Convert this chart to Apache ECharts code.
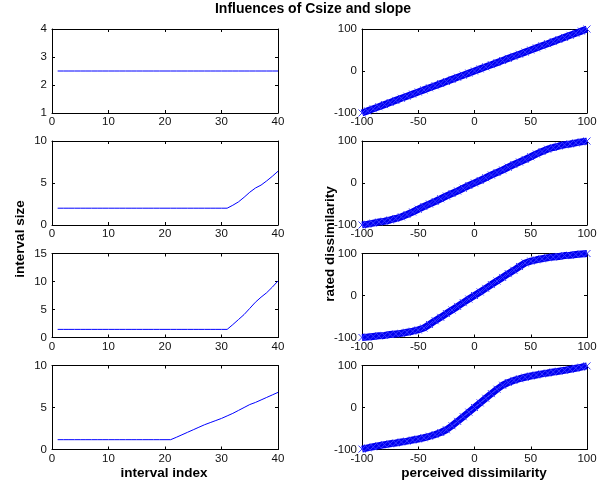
<!DOCTYPE html>
<html>
<head>
<meta charset="utf-8">
<title>Influences of Csize and slope</title>
<script src="https://cdn.jsdelivr.net/npm/echarts@6/dist/echarts.min.js"></script>
<style>
  html, body { margin: 0; padding: 0; background: #fff; }
  #chart { width: 613px; height: 486px; }
</style>
</head>
<body>
<div id="chart"></div>
<script>
// Interval index (left column x values)
const intervalIndex = [1,2,3,4,5,6,7,8,9,10,11,12,13,14,15,16,17,18,19,20,
                       21,22,23,24,25,26,27,28,29,30,31,32,33,34,35,36,37,38,39,40];

// Interval sizes for the four settings of Csize / slope
const sizeA = [2.5,2.5,2.5,2.5,2.5,2.5,2.5,2.5,2.5,2.5,2.5,2.5,2.5,2.5,2.5,2.5,2.5,2.5,2.5,2.5,
               2.5,2.5,2.5,2.5,2.5,2.5,2.5,2.5,2.5,2.5,2.5,2.5,2.5,2.5,2.5,2.5,2.5,2.5,2.5,2.5];
const sizeB = [2,2,2,2,2,2,2,2,2,2,2,2,2,2,2,2,2,2,2,2,
               2,2,2,2,2,2,2,2,2,2,2,2.35,2.75,3.3,3.9,4.4,4.75,5.25,5.8,6.4];
const sizeC = [1.45,1.45,1.45,1.45,1.45,1.45,1.45,1.45,1.45,1.45,1.45,1.45,1.45,1.45,1.45,1.45,1.45,1.45,1.45,1.45,
               1.45,1.45,1.45,1.45,1.45,1.45,1.45,1.45,1.45,1.45,1.45,2.3,3.2,4.1,5.2,6.3,7.2,8.0,9.0,10.1];
const sizeD = [1.17,1.17,1.17,1.17,1.17,1.17,1.17,1.17,1.17,1.17,1.17,1.17,1.17,1.17,1.17,1.17,1.17,1.17,1.17,1.17,
               1.17,1.45,1.75,2.05,2.35,2.65,2.95,3.2,3.45,3.7,4.0,4.3,4.65,5.0,5.35,5.6,5.9,6.2,6.5,6.8];

// Perceived dissimilarity (right column x values)
const perceived = [-100,-95,-90,-85,-80,-75,-70,-65,-60,-55,-50,-45,-40,-35,-30,-25,-20,-15,-10,-5,
                   0,5,10,15,20,25,30,35,40,45,50,55,60,65,70,75,80,85,90,95,100];

// Rated dissimilarity for the four settings
const ratedA = [-100,-95,-90,-85,-80,-75,-70,-65,-60,-55,-50,-45,-40,-35,-30,-25,-20,-15,-10,-5,
                0,5,10,15,20,25,30,35,40,45,50,55,60,65,70,75,80,85,90,95,100];
const ratedB = [-100,-98,-95.5,-93,-91,-88,-84.5,-80.5,-75,-69,-62.5,-56,-50,-44,-37.5,-31,-25,-19,-12.5,-6,
                0,6,12.5,19,25,31,37.5,44,50,56,62.5,69,75,80.5,84.5,88,91,93,95.5,98,100];
const ratedC = [-100,-99,-97.5,-96,-95,-93,-91.5,-90,-87.5,-85,-82,-77.5,-69,-60,-52,-43,-34.5,-26,-17,-8.5,
                0,8.5,17,26,34.5,43,52,60,69,77.5,82,85,87.5,90,91.5,93,95,96,97.5,99,100];
const ratedD = [-99,-96,-93.5,-91,-88.5,-86.5,-84.5,-82,-80,-77.5,-75,-72,-68.5,-64.5,-59.5,-53,-43.5,-33,-22,-11,
                0,11,22,33,43.5,53,59.5,64.5,68.5,72,75,77.5,80,82,84.5,86.5,88.5,91,93.5,96,99];

// Axis ranges / tick spacing per row
const sizeYRange = [[1, 4, 1], [0, 10, 5], [0, 15, 5], [0, 10, 5]];
const sizeSeries = [sizeA, sizeB, sizeC, sizeD];
const ratedSeries = [ratedA, ratedB, ratedC, ratedD];

const titleText = 'Influences of Csize and slope';
const yLabelLeft = 'interval size';
const yLabelRight = 'rated dissimilarity';
const xLabelLeft = 'interval index';
const xLabelRight = 'perceived dissimilarity';

// ---- layout ----
const rowTops = [29, 141, 253.5, 365.5];
const rowH = 84;
const colLeft = [52, 362];
const colW = [226, 225];
const FONT = '"Liberation Sans", Arial, Helvetica, sans-serif';
const INK = '#000';

const grids = [], xAxes = [], yAxes = [], series = [];

function addAxes(gi, xr, yr) {
  const base = {
    gridIndex: gi, type: 'value',
    splitLine: { show: false },
    axisLine: { show: true, onZero: false, lineStyle: { color: INK, width: 1 } },
    axisTick: { show: true, inside: true, length: 3, lineStyle: { color: INK, width: 1 } }
  };
  const lbl = { show: true, color: '#111', fontSize: 11.5, fontFamily: FONT };
  xAxes.push(Object.assign({}, base, {
    position: 'bottom', min: xr[0], max: xr[1], interval: xr[2],
    axisLabel: Object.assign({ margin: 3 }, lbl)
  }));
  xAxes.push(Object.assign({}, base, {
    position: 'top', min: xr[0], max: xr[1], interval: xr[2],
    axisLabel: { show: false }
  }));
  yAxes.push(Object.assign({}, base, {
    position: 'left', min: yr[0], max: yr[1], interval: yr[2],
    axisLabel: Object.assign({ margin: 5 }, lbl)
  }));
  yAxes.push(Object.assign({}, base, {
    position: 'right', min: yr[0], max: yr[1], interval: yr[2],
    axisLabel: { show: false }
  }));
}

// 'x' marker drawn as two crossing strokes
const crossMark = 'path://M0,0L10,10M10,0L0,10';

for (let r = 0; r < 4; r++) {
  // left: interval size vs interval index
  let gi = grids.length;
  grids.push({ left: colLeft[0], top: rowTops[r], width: colW[0], height: rowH, containLabel: false });
  addAxes(gi, [0, 40, 10], sizeYRange[r]);
  series.push({
    type: 'line', xAxisIndex: gi * 2, yAxisIndex: gi * 2,
    data: intervalIndex.map((x, i) => [x, sizeSeries[r][i]]),
    symbol: 'none', lineStyle: { color: '#0000ff', width: 1 },
    animation: false, silent: true
  });

  // right: rated vs perceived dissimilarity
  gi = grids.length;
  grids.push({ left: colLeft[1], top: rowTops[r], width: colW[1], height: rowH, containLabel: false });
  addAxes(gi, [-100, 100, 50], [-100, 100, 100]);
  series.push({
    type: 'line', xAxisIndex: gi * 2, yAxisIndex: gi * 2,
    data: perceived.map((x, i) => [x, ratedSeries[r][i]]),
    showAllSymbol: true,
    symbol: crossMark, symbolSize: 7,
    itemStyle: { color: 'none', borderColor: '#3a3aff', borderWidth: 1 },
    lineStyle: { color: '#0000f0', width: 7 },
    animation: false, silent: true
  });
}

const chart = echarts.init(document.getElementById('chart'), null, { renderer: 'canvas' });
chart.setOption({
  backgroundColor: '#fff',
  animation: false,
  grid: grids,
  xAxis: xAxes,
  yAxis: yAxes,
  series: series,
  graphic: [
    { type: 'text', x: 313, y: 9, style: { text: titleText, font: 'bold 14px ' + FONT, fill: '#000', align: 'center', verticalAlign: 'middle' } },
    { type: 'text', x: 20, y: 239, rotation: Math.PI / 2, style: { text: yLabelLeft, font: 'bold 13.5px ' + FONT, fill: '#000', align: 'center', verticalAlign: 'middle' } },
    { type: 'text', x: 330, y: 244, rotation: Math.PI / 2, style: { text: yLabelRight, font: 'bold 13.5px ' + FONT, fill: '#000', align: 'center', verticalAlign: 'middle' } },
    { type: 'text', x: 164, y: 473, style: { text: xLabelLeft, font: 'bold 13.5px ' + FONT, fill: '#000', align: 'center', verticalAlign: 'middle' } },
    { type: 'text', x: 474, y: 473, style: { text: xLabelRight, font: 'bold 13.5px ' + FONT, fill: '#000', align: 'center', verticalAlign: 'middle' } }
  ]
});
</script>
</body>
</html>
